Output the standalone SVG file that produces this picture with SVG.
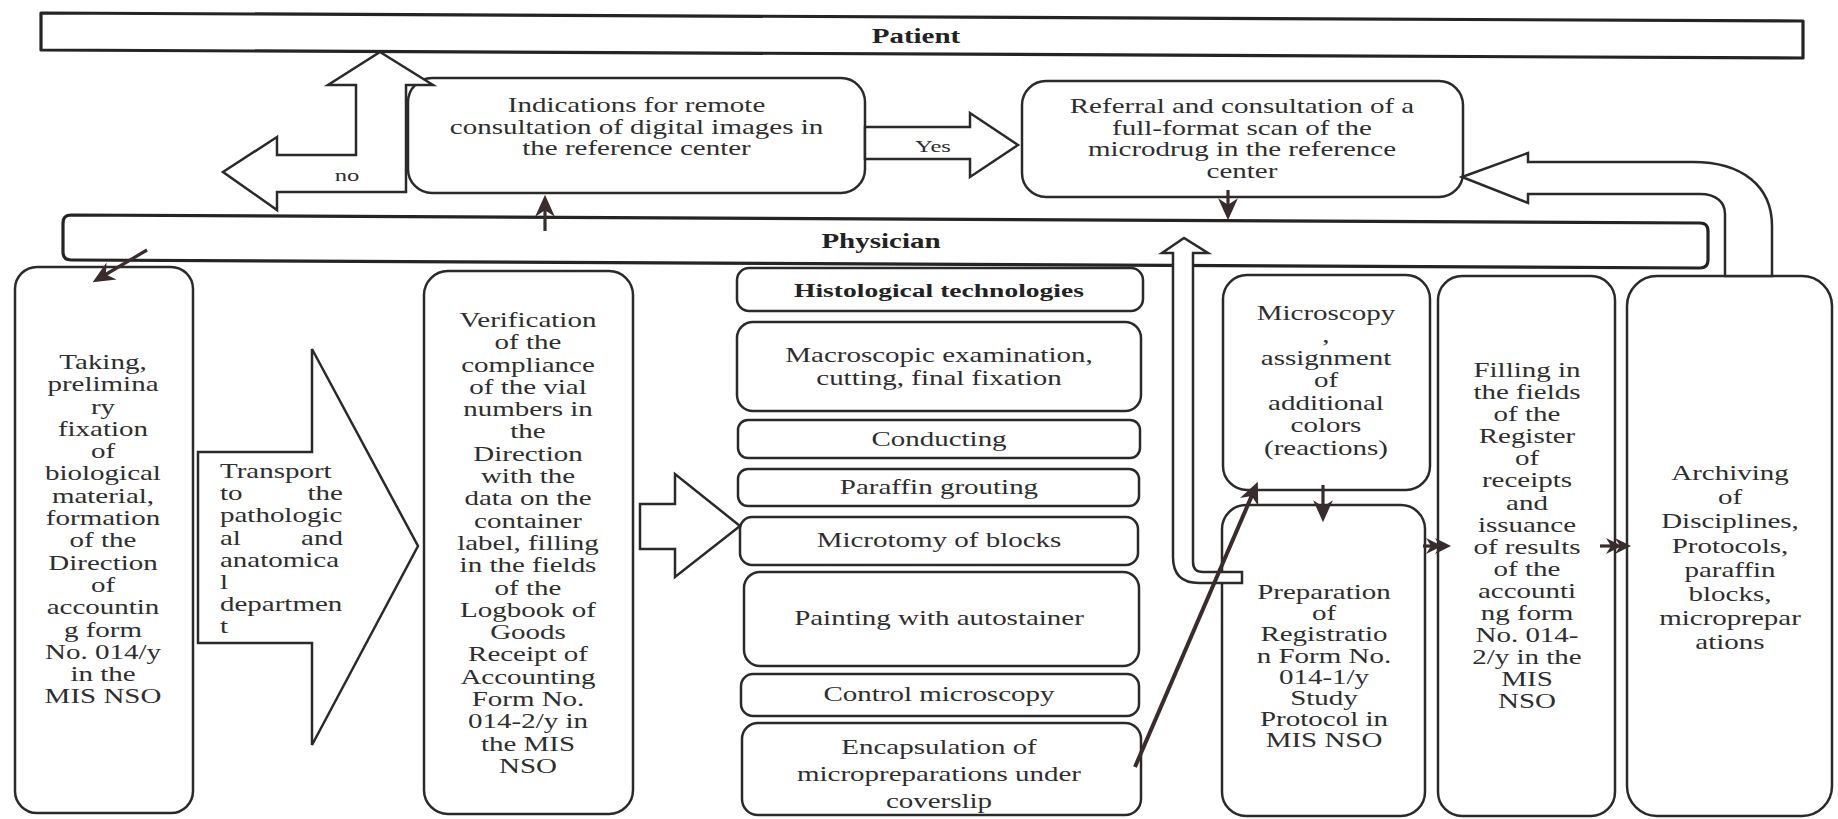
<svg xmlns="http://www.w3.org/2000/svg" width="1838" height="819" viewBox="0 0 1838 819">
  <style>
    .box { fill: #ffffff; stroke: #2a2a2a; stroke-width: 2.5; }
    .bar { fill: #ffffff; stroke: #242424; stroke-width: 3.2; stroke-linejoin: round; }
    .hollow { fill: #ffffff; stroke: #2a2a2a; stroke-width: 2.5; stroke-linejoin: miter; }
    .t { font-family: "Liberation Serif", "Times New Roman", serif; font-size: 20px; fill: #2e2e2e; text-anchor: middle; }
    .l { text-anchor: start; }
    .r { text-anchor: end; }
    .b { font-weight: bold; fill: #222222; }
    .hb { font-size: 19px; }
    .sm { font-size: 17px; }
    .conn { stroke: #3a2c2c; stroke-width: 4; fill: none; }
    .thin { stroke-width: 3.2; }
    .head { fill: #3a2c2c; }
  </style>
  <defs>
    <marker id="ah" viewBox="0 0 20 20" refX="8" refY="10" markerWidth="22" markerHeight="22" markerUnits="userSpaceOnUse" orient="auto">
      <path class="head" d="M0,1 L20,10 L0,19 L6,10 Z"/>
    </marker>
    <marker id="dbl" viewBox="0 0 26 20" refX="8" refY="10" markerWidth="26" markerHeight="20" markerUnits="userSpaceOnUse" orient="auto">
      <path class="head" d="M0,2 L16,10 L0,18 L5,10 Z M9,2 L25,10 L9,18 L14,10 Z"/>
    </marker>
  </defs>

  <rect width="1838" height="819" fill="#ffffff"/>

  <!-- top swim bar -->
  <g id="patient">
    <path class="bar" d="M41,13 L1803,21 L1803,58 L41,50 Z"/>
    <g transform="matrix(1.45 0 0 1 -412.2 0)">
      <text class="t b" x="916" y="43">Patient</text>
    </g>
  </g>

  <!-- second swim bar -->
  <g id="physician">
    <path class="bar" d="M71,215 L1700,223 Q1708,223 1708,231 L1708,260 Q1708,268 1700,268 L71,260 Q63,260 63,252 L63,223 Q63,215 71,215 Z"/>
    <g transform="matrix(1.45 0 0 1 -396.45 0)">
      <text class="t b" x="881" y="248">Physician</text>
    </g>
  </g>

  <g id="indications">
    <rect class="box" x="408" y="78" width="457" height="115" rx="24"/>
    <g transform="matrix(1.45 0 0 1 -286.4 0)">
      <text class="t" x="636.5" y="112">Indications for remote</text>
      <text class="t" x="636.5" y="134">consultation of digital images in</text>
      <text class="t" x="636.5" y="155">the reference center</text>
    </g>
  </g>

  <g id="referral">
    <rect class="box" x="1022" y="81" width="441" height="116" rx="24"/>
    <g transform="matrix(1.45 0 0 1 -558.9 0)">
      <text class="t" x="1242" y="113">Referral and consultation of a</text>
      <text class="t" x="1242" y="135">full-format scan of the</text>
      <text class="t" x="1242" y="156">microdrug in the reference</text>
      <text class="t" x="1242" y="178">center</text>
    </g>
  </g>

  <g id="taking">
    <rect class="box" x="15" y="267" width="178" height="546" rx="22"/>
    <g transform="matrix(1.45 0 0 1 -46.35 0)">
      <text class="t" x="103" y="369">Taking,</text>
      <text class="t" x="103" y="391.3">prelimina</text>
      <text class="t" x="103" y="413.6">ry</text>
      <text class="t" x="103" y="435.9">fixation</text>
      <text class="t" x="103" y="458.2">of</text>
      <text class="t" x="103" y="480.5">biological</text>
      <text class="t" x="103" y="502.8">material,</text>
      <text class="t" x="103" y="525.1">formation</text>
      <text class="t" x="103" y="547.4">of the</text>
      <text class="t" x="103" y="569.7">Direction</text>
      <text class="t" x="103" y="592">of</text>
      <text class="t" x="103" y="614.3">accountin</text>
      <text class="t" x="103" y="636.6">g form</text>
      <text class="t" x="103" y="658.9">No. 014/y</text>
      <text class="t" x="103" y="681.2">in the</text>
      <text class="t" x="103" y="703.5">MIS NSO</text>
    </g>
  </g>

  <g id="transport">
    <polygon class="hollow" points="198,452 312,452 312,349 418,546 312,745 312,643 198,643"/>
    <g transform="matrix(1.45 0 0 1 -99 0)">
      <text class="t l" x="220" y="478">Transport</text>
      <text class="t l" x="220" y="500.2">to</text>
      <text class="t r" x="304.8" y="500.2">the</text>
      <text class="t l" x="220" y="522.4">pathologic</text>
      <text class="t l" x="220" y="544.6">al</text>
      <text class="t r" x="304.8" y="544.6">and</text>
      <text class="t l" x="220" y="566.8">anatomica</text>
      <text class="t l" x="220" y="589">l</text>
      <text class="t l" x="220" y="611.2">departmen</text>
      <text class="t l" x="220" y="633.4">t</text>
    </g>
  </g>

  <g id="verification">
    <rect class="box" x="424" y="271" width="209" height="543" rx="24"/>
    <g transform="matrix(1.45 0 0 1 -237.6 0)">
      <text class="t" x="528" y="327">Verification</text>
      <text class="t" x="528" y="349.3">of the</text>
      <text class="t" x="528" y="371.6">compliance</text>
      <text class="t" x="528" y="393.9">of the vial</text>
      <text class="t" x="528" y="416.2">numbers in</text>
      <text class="t" x="528" y="438.5">the</text>
      <text class="t" x="528" y="460.8">Direction</text>
      <text class="t" x="528" y="483.1">with the</text>
      <text class="t" x="528" y="505.4">data on the</text>
      <text class="t" x="528" y="527.7">container</text>
      <text class="t" x="528" y="550">label, filling</text>
      <text class="t" x="528" y="572.3">in the fields</text>
      <text class="t" x="528" y="594.6">of the</text>
      <text class="t" x="528" y="616.9">Logbook of</text>
      <text class="t" x="528" y="639.2">Goods</text>
      <text class="t" x="528" y="661.5">Receipt of</text>
      <text class="t" x="528" y="683.8">Accounting</text>
      <text class="t" x="528" y="706.1">Form No.</text>
      <text class="t" x="528" y="728.4">014-2/y in</text>
      <text class="t" x="528" y="750.7">the MIS</text>
      <text class="t" x="528" y="773">NSO</text>
    </g>
  </g>

  <!-- histology stack -->
  <g id="histology">
    <rect class="box" x="737" y="268" width="406" height="43" rx="12"/>
    <rect class="box" x="737" y="322" width="404" height="89" rx="16"/>
    <rect class="box" x="738" y="420" width="402" height="38" rx="10"/>
    <rect class="box" x="738" y="469" width="401" height="37" rx="10"/>
    <rect class="box" x="740" y="517" width="398" height="48" rx="12"/>
    <rect class="box" x="744" y="572" width="395" height="94" rx="16"/>
    <rect class="box" x="741" y="674" width="398" height="42" rx="12"/>
    <rect class="box" x="742" y="723" width="399" height="92" rx="16"/>
    <g transform="matrix(1.45 0 0 1 -422.55 0)">
      <text class="t b hb" x="939" y="297">Histological technologies</text>
      <text class="t" x="939" y="362">Macroscopic examination,</text>
      <text class="t" x="939" y="385">cutting, final fixation</text>
      <text class="t" x="939" y="446">Conducting</text>
      <text class="t" x="939" y="494">Paraffin grouting</text>
      <text class="t" x="939" y="547">Microtomy of blocks</text>
      <text class="t" x="939" y="625">Painting with autostainer</text>
      <text class="t" x="939" y="701">Control microscopy</text>
      <text class="t" x="939" y="754">Encapsulation of</text>
      <text class="t" x="939" y="781">micropreparations under</text>
      <text class="t" x="939" y="808">coverslip</text>
    </g>
  </g>

  <g id="microscopy">
    <rect class="box" x="1223" y="275" width="207" height="215" rx="24"/>
    <g transform="matrix(1.45 0 0 1 -596.7 0)">
      <text class="t" x="1326" y="320">Microscopy</text>
      <text class="t" x="1326" y="342.5">,</text>
      <text class="t" x="1326" y="365">assignment</text>
      <text class="t" x="1326" y="387.5">of</text>
      <text class="t" x="1326" y="410">additional</text>
      <text class="t" x="1326" y="432.5">colors</text>
      <text class="t" x="1326" y="455">(reactions)</text>
    </g>
  </g>

  <g id="preparation">
    <rect class="box" x="1222" y="505" width="203" height="311" rx="24"/>
    <g transform="matrix(1.45 0 0 1 -595.8 0)">
      <text class="t" x="1324" y="599">Preparation</text>
      <text class="t" x="1324" y="620.2">of</text>
      <text class="t" x="1324" y="641.4">Registratio</text>
      <text class="t" x="1324" y="662.6">n Form No.</text>
      <text class="t" x="1324" y="683.8">014-1/y</text>
      <text class="t" x="1324" y="705">Study</text>
      <text class="t" x="1324" y="726.2">Protocol in</text>
      <text class="t" x="1324" y="747.4">MIS NSO</text>
    </g>
  </g>

  <g id="filling">
    <rect class="box" x="1438" y="276" width="177" height="540" rx="24"/>
    <g transform="matrix(1.45 0 0 1 -687.15 0)">
      <text class="t" x="1527" y="377">Filling in</text>
      <text class="t" x="1527" y="399.1">the fields</text>
      <text class="t" x="1527" y="421.2">of the</text>
      <text class="t" x="1527" y="443.3">Register</text>
      <text class="t" x="1527" y="465.4">of</text>
      <text class="t" x="1527" y="487.5">receipts</text>
      <text class="t" x="1527" y="509.6">and</text>
      <text class="t" x="1527" y="531.7">issuance</text>
      <text class="t" x="1527" y="553.8">of results</text>
      <text class="t" x="1527" y="575.9">of the</text>
      <text class="t" x="1527" y="598">accounti</text>
      <text class="t" x="1527" y="620.1">ng form</text>
      <text class="t" x="1527" y="642.2">No. 014-</text>
      <text class="t" x="1527" y="664.3">2/y in the</text>
      <text class="t" x="1527" y="686.4">MIS</text>
      <text class="t" x="1527" y="708.5">NSO</text>
    </g>
  </g>

  <g id="archiving">
    <rect class="box" x="1627" y="276" width="205" height="540" rx="30"/>
    <g transform="matrix(1.45 0 0 1 -778.5 0)">
      <text class="t" x="1730" y="480">Archiving</text>
      <text class="t" x="1730" y="504.2">of</text>
      <text class="t" x="1730" y="528.4">Disciplines,</text>
      <text class="t" x="1730" y="552.6">Protocols,</text>
      <text class="t" x="1730" y="576.8">paraffin</text>
      <text class="t" x="1730" y="601">blocks,</text>
      <text class="t" x="1730" y="625.2">microprepar</text>
      <text class="t" x="1730" y="649.4">ations</text>
    </g>
  </g>

  <!-- connectors -->
  <g id="connectors">
    <!-- no: back to Patient / out to the left -->
    <polygon class="hollow" points="380,52 433,85 406,85 406,192 277,192 277,210 223,172 277,137 277,155 356,155 356,85 328,85"/>
    <g transform="matrix(1.45 0 0 1 -156.15 0)">
      <text class="t sm" x="347" y="181">no</text>
    </g>
    <!-- yes -->
    <polygon class="hollow" points="865,127 970,127 970,113 1018,145 970,177 970,159 865,159"/>
    <g transform="matrix(1.45 0 0 1 -419.85 0)">
      <text class="t sm" x="933" y="152">Yes</text>
    </g>
    <!-- into the histology stack -->
    <polygon class="hollow" points="640,504 675,504 675,474 740,526 675,577 675,549 640,549"/>
    <!-- archive back to referral -->
    <path class="hollow" d="M1462,177 L1528,153 L1528,162 L1693,162 C1742,162 1772,186 1772,226 L1772,276 L1725,276 L1725,214 C1725,202 1716,194 1700,194 L1528,194 L1528,203 Z"/>
    <!-- result back up to physician -->
    <path class="hollow" d="M1242,572 L1203,572 Q1193,572 1193,562 L1193,253 L1208,253 L1184,238 L1162,253 L1173,253 L1173,557 Q1173,583 1199,583 L1242,583 Z"/>

    <!-- solid arrows -->
    <line class="conn thin" x1="545" y1="231" x2="545" y2="208" marker-end="url(#ah)"/>
    <line class="conn thin" x1="1228" y1="190" x2="1228" y2="207" marker-end="url(#ah)"/>
    <line class="conn thin" x1="147" y1="250" x2="104" y2="275.5" marker-end="url(#ah)"/>
    <line class="conn thin" x1="1323" y1="485" x2="1323" y2="509" marker-end="url(#ah)"/>
    <line class="conn" x1="1135" y1="767" x2="1252.6" y2="493.9" marker-end="url(#ah)"/>
    <line class="conn thin" x1="1423" y1="546" x2="1434" y2="546" marker-end="url(#dbl)"/>
    <line class="conn thin" x1="1600" y1="546" x2="1614" y2="546" marker-end="url(#dbl)"/>
  </g>
</svg>
